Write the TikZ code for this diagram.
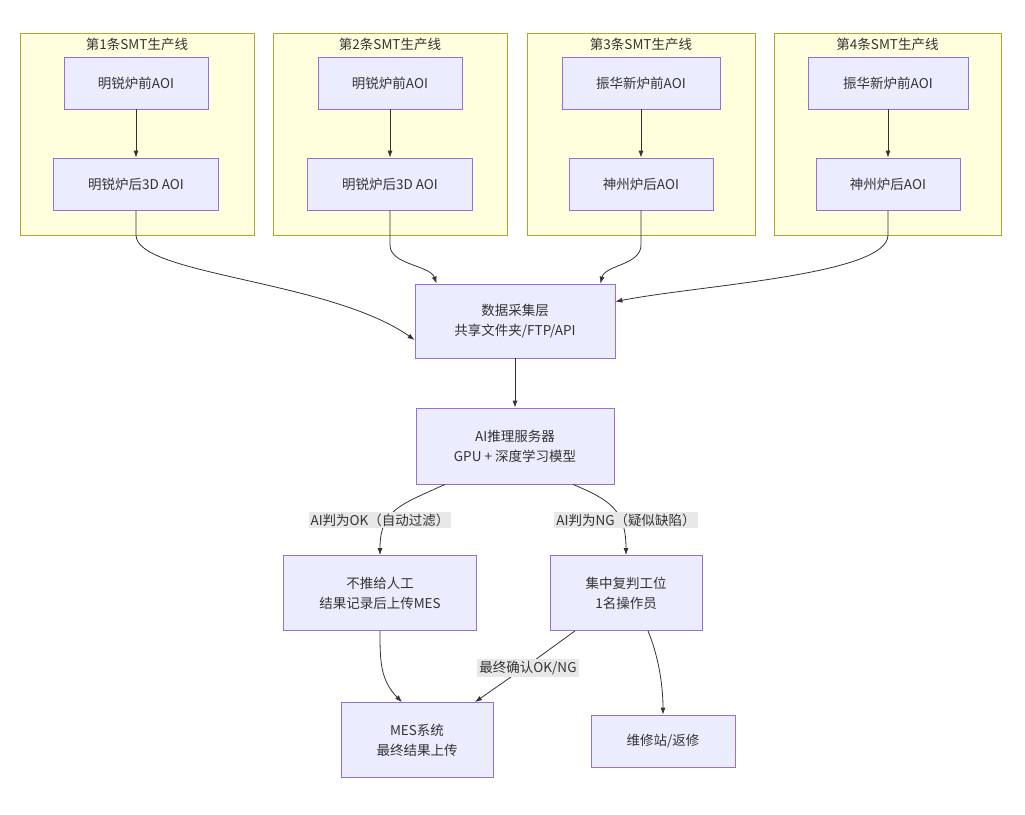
\documentclass[tikz,border=0pt]{standalone}
\usepackage{fontspec}
\setmainfont{Noto Sans CJK SC}
\usetikzlibrary{arrows.meta}
\definecolor{nf}{HTML}{ECECFF}\definecolor{nb}{HTML}{9370DB}
\definecolor{cf}{HTML}{FFFFDE}\definecolor{cb}{HTML}{AAAA33}
\definecolor{ed}{HTML}{333333}\definecolor{lb}{HTML}{E8E8E8}
\begin{document}
\begin{tikzpicture}[x=1pt,y=-1pt,
 box/.style={draw=nb,fill=nf,line width=0.8pt,align=center,font=\fontsize{13.5}{20}\selectfont,text=ed,inner sep=0pt},
 clu/.style={draw=cb,fill=cf,line width=0.8pt},
 ttl/.style={font=\fontsize{13.5}{15}\selectfont,text=ed},
 lab/.style={fill=lb,font=\fontsize{13.5}{15}\selectfont,text=ed,inner sep=2pt},
 e/.style={draw=ed,line width=0.8pt,-{Latex[length=7pt,width=5pt]}}]
\useasboundingbox[fill=white](0,0) rectangle (1025,814);
\foreach \a/\b/\n in {20/254/1,273/507/2,527/755/3,774/1001/4}{
 \draw[clu] (\a,33) rectangle (\b,235);
 \node[ttl] at ({(\a+\b)/2},44) {第\n 条SMT生产线};}
\node[box,minimum width=144,minimum height=52] (A1) at (136,83) {明锐炉前AOI};
\node[box,minimum width=165,minimum height=52] (B1) at (136,184) {明锐炉后3D AOI};
\node[box,minimum width=144,minimum height=52] (A2) at (390,83) {明锐炉前AOI};
\node[box,minimum width=165,minimum height=52] (B2) at (390,184) {明锐炉后3D AOI};
\node[box,minimum width=158,minimum height=52] (A3) at (641,83) {振华新炉前AOI};
\node[box,minimum width=144,minimum height=52] (B3) at (641,184) {神州炉后AOI};
\node[box,minimum width=160,minimum height=52] (A4) at (888,83) {振华新炉前AOI};
\node[box,minimum width=144,minimum height=52] (B4) at (888,184) {神州炉后AOI};
\node[box,minimum width=200,minimum height=74] (D) at (515,321) {数据采集层\\共享文件夹/FTP/API};
\node[box,minimum width=198,minimum height=76] (E) at (515,446) {AI推理服务器\\GPU + 深度学习模型};
\node[box,minimum width=193,minimum height=75] (F) at (380,593) {不推给人工\\结果记录后上传MES};
\node[box,minimum width=152,minimum height=75] (G) at (626,593) {集中复判工位\\1名操作员};
\node[box,minimum width=152,minimum height=75] (H) at (417,740) {MES系统\\最终结果上传};
\node[box,minimum width=144,minimum height=52] (I) at (663,741) {维修站/返修};
\foreach \i in {1,2,3,4}{\draw[e] (A\i) -- (B\i);}
\draw[e] (B1.south) -- (136,235) .. controls (136,275) and (330,280) .. ([yshift=-19]D.west);
\draw[e] (B2.south) -- (390,245) .. controls (390,265) and (430,265) .. ([xshift=22]D.north west);
\draw[e] (B3.south) -- (641,245) .. controls (641,265) and (605,265) .. ([xshift=-15]D.north east);
\draw[e] (B4.south) -- (888,235) .. controls (888,275) and (700,285) .. ([yshift=-18]D.north east);
\draw[e] (D) -- (E);
\draw[e] ([xshift=-70]E.south) .. controls (400,505) and (380,510) .. (F.north);
\draw[e] ([xshift=58]E.south) .. controls (610,500) and (626,510) .. (G.north);
\node[lab] at (380,520) {AI判为OK（自动过滤）};
\node[lab] at (626,520) {AI判为NG（疑似缺陷）};
\draw[e] (F.south) .. controls (380,660) and (380,680) .. ([xshift=-15]H.north);
\draw[e] ([xshift=-51]G.south) -- (528,665) -- ([xshift=58]H.north);
\node[lab] at (528,668) {最终确认OK/NG};
\draw[e] ([xshift=22]G.south) .. controls (660,660) and (663,690) .. (I.north);
\end{tikzpicture}
\end{document}
